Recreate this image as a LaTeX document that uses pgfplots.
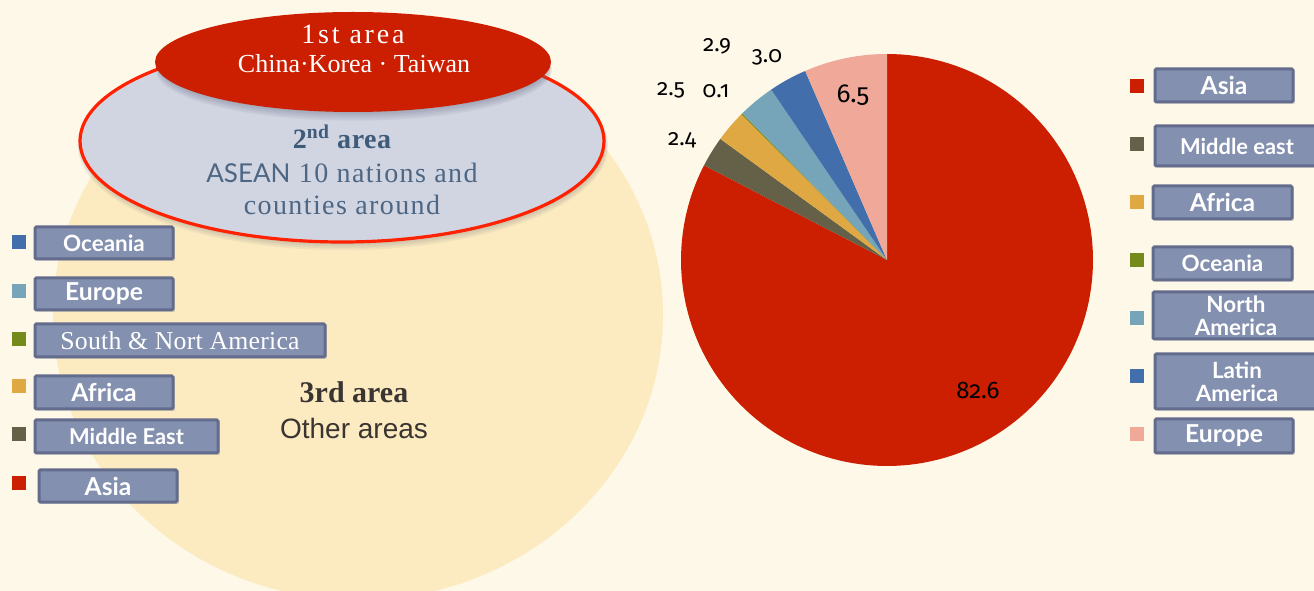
\documentclass[border=0pt]{standalone}
\usepackage{pgfplots}
\pgfplotsset{compat=1.18}
\usepackage{pgfplotstable}
\usepackage{fontspec}
\setmainfont{Liberation Sans}
\newfontfamily\gill{Lato}
\newfontfamily\numf[Numbers=OldStyle]{Fira Sans}
\newfontfamily\simf{Liberation Serif}

\definecolor{bg}{HTML}{FEF8E8}
\definecolor{yel}{HTML}{FCEBC0}
\definecolor{greyf}{HTML}{D1D5E2}
\definecolor{redl}{HTML}{FF2200}
\definecolor{redf}{HTML}{CC1E00}
\definecolor{boxf}{HTML}{8490B0}
\definecolor{boxd}{HTML}{636C8C}
\definecolor{shad}{HTML}{5A6078}
\definecolor{cAsia}{HTML}{CC1E00}
\definecolor{cMid}{HTML}{656048}
\definecolor{cAfr}{HTML}{DFA843}
\definecolor{cOce}{HTML}{748B1B}
\definecolor{cNA}{HTML}{76A5B9}
\definecolor{cLA}{HTML}{426FAB}
\definecolor{cEur}{HTML}{F0A898}
\definecolor{txtblue}{HTML}{3F5B7A}
\definecolor{txtblue2}{HTML}{4C6684}
\definecolor{txtbrown}{HTML}{3A3532}

% pie data: share in percent, clockwise from 12 o'clock
\pgfplotstableread{
value color
82.6 cAsia
2.4 cMid
2.5 cAfr
0.1 cOce
2.9 cNA
3.0 cLA
6.5 cEur
}\piedata

\def\cum{0}
\pgfplotsforeachungrouped \i in {0,...,6}{%
  \pgfplotstablegetelem{\i}{value}\of\piedata
  \let\val\pgfplotsretval
  \pgfmathsetmacro{\startang}{90-3.6*\cum}%
  \pgfmathsetmacro{\cum}{\cum+\val}%
  \pgfmathsetmacro{\stopang}{90-3.6*\cum}%
  \expandafter\xdef\csname pieS\i\endcsname{\startang}%
  \expandafter\xdef\csname pieE\i\endcsname{\stopang}%
  \pgfplotstablegetelem{\i}{color}\of\piedata
  \expandafter\xdef\csname pieC\i\endcsname{\pgfplotsretval}%
}

\newcommand{\lbox}[6]{%
  \fill[shad,opacity=0.18] (axis cs:{#1+1.5},{#2+2}) rectangle (axis cs:{#3+1.5},{#4+2});
  \draw[fill=boxf,draw=boxd,line width=2.25pt,rounded corners=1pt]
    (axis cs:#1,#2) rectangle (axis cs:#3,#4);
  \node[text=white,font=#5,align=center,inner sep=0pt] at (axis cs:{(#1+#3)/2},{(#2+#4)/2}) {#6};}
\newcommand{\lsq}[3]{\fill[#3] (axis cs:#1,{#2-7}) rectangle (axis cs:{#1+14},{#2+7});}

\begin{document}
\begin{tikzpicture}
\path[use as bounding box] (0,0) rectangle (985.5pt,443.25pt);
\begin{axis}[
  width=985.5pt, height=443.25pt, scale only axis,
  xmin=0, xmax=1314, ymin=0, ymax=591, y dir=reverse,
  hide axis, clip=true]
% background
\fill[bg] (axis cs:0,0) rectangle (axis cs:1314,591);
% third area
\fill[yel] (axis cs:358,315) ellipse [x radius=228.75pt, y radius=213.75pt];
% second area: soft shadow, then ellipse
\pgfplotsinvokeforeach{1,...,4}{
  \fill[shad,opacity=0.07] (axis cs:343,{142+#1}) ellipse [x radius={196.5pt+0.6pt*#1}, y radius={75.75pt+0.6pt*#1}];
}
\draw[fill=greyf, draw=redl, line width=2.4pt]
  (axis cs:342,141) ellipse [x radius=196.5pt, y radius=75.75pt];
% first area: soft shadow, then ellipse
\pgfplotsinvokeforeach{1,...,5}{
  \fill[shad,opacity=0.09] (axis cs:354,{64+1.2*#1}) ellipse [x radius={146pt+0.5pt*#1}, y radius={35pt+0.6pt*#1}];
}
\fill[redf] (axis cs:353,62) ellipse [x radius=148.5pt, y radius=37.5pt];

\node[text=white,font=\simf\addfontfeature{LetterSpace=10}\fontsize{21}{23}\selectfont] at (axis cs:353,34) {1st area};
\node[text=white,font=\simf\fontsize{19.5}{21}\selectfont] at (axis cs:354,64) {China·Korea · Taiwan};
\node[text=txtblue,font=\simf\bfseries\addfontfeature{LetterSpace=2}\fontsize{21}{23}\selectfont] at (axis cs:342,137) {2\textsuperscript{nd} area};
\node[text=txtblue2,font=\simf\addfontfeature{LetterSpace=5}\fontsize{21}{23}\selectfont] at (axis cs:342,173) {{\gill\addfontfeature{LetterSpace=0}\fontsize{19.5}{21}\selectfont ASEAN} 10 nations and};
\node[text=txtblue2,font=\simf\addfontfeature{LetterSpace=5}\fontsize{21}{23}\selectfont] at (axis cs:342,205) {counties around};
\node[text=txtbrown,font=\simf\bfseries\fontsize{22.5}{24}\selectfont] at (axis cs:354,392) {3rd area};
\node[text=txtbrown,font=\fontsize{21}{23}\selectfont] at (axis cs:354,428) {Other areas};

% left legend
\lsq{12}{242}{cLA}
\lsq{12}{291}{cNA}
\lsq{12}{339}{cOce}
\lsq{12}{386}{cAfr}
\lsq{12}{434}{cMid}
\lsq{12}{483}{cAsia}
\lbox{35}{227}{173}{259}{\gill\bfseries\fontsize{16.8}{18}\selectfont}{Oceania}
\lbox{35}{278}{173}{310}{\gill\bfseries\fontsize{18.5}{18}\selectfont}{Europe}
\lbox{35}{324}{325}{357}{\simf\addfontfeature{LetterSpace=1}\fontsize{19.3}{21}\selectfont}{South \& Nort America}
\lbox{35}{376}{173}{409}{\gill\bfseries\fontsize{18.5}{18}\selectfont}{Africa}
\lbox{35}{420}{218}{453}{\gill\bfseries\fontsize{16.4}{18}\selectfont}{Middle East}
\lbox{39}{470}{177}{502}{\gill\bfseries\fontsize{18.5}{18}\selectfont}{Asia}

% right legend
\lsq{1130}{86.5}{cAsia}
\lsq{1130}{144.5}{cMid}
\lsq{1130}{202.5}{cAfr}
\lsq{1130}{260.5}{cOce}
\lsq{1130}{318.5}{cNA}
\lsq{1130}{376.5}{cLA}
\lsq{1130}{434.5}{cEur}
\lbox{1155}{69}{1293}{102}{\gill\bfseries\fontsize{18.5}{18}\selectfont}{Asia}
\lbox{1155}{126}{1319}{166}{\gill\bfseries\fontsize{16.4}{18}\selectfont}{Middle east}
\lbox{1153}{186}{1292}{219}{\gill\bfseries\fontsize{18.5}{18}\selectfont}{Africa}
\lbox{1153}{247}{1292}{280}{\gill\bfseries\fontsize{16.8}{18}\selectfont}{Oceania}
\lbox{1153}{292}{1319}{339}{\gill\bfseries\fontsize{16.8}{17.5}\selectfont}{North\\America}
\lbox{1155}{354}{1319}{409}{\gill\bfseries\fontsize{16.8}{17.5}\selectfont}{Latin\\America}
\lbox{1155}{419}{1293}{453}{\gill\bfseries\fontsize{18.5}{18}\selectfont}{Europe}

% pie
\pgfplotsinvokeforeach{0,...,6}{
  \addplot[draw=none, fill=\csname pieC#1\endcsname,
    domain=\csname pieE#1\endcsname:\csname pieS#1\endcsname,
    samples=150, variable=\t]
    ({887+206*cos(\t)},{260-206*sin(\t)}) -- (axis cs:887,260) -- cycle;
}
\node[font=\numf\fontsize{18}{20}\selectfont] at (axis cs:978,390) {82.6};
\node[font=\numf\fontsize{19.5}{20}\selectfont] at (axis cs:853,95) {6.5};
\node[font=\numf\fontsize{17}{20}\selectfont] at (axis cs:767,57) {3.0};
\node[font=\numf\fontsize{17}{20}\selectfont] at (axis cs:717,46) {2.9};
\node[font=\numf\fontsize{17}{20}\selectfont] at (axis cs:716,91) {0.1};
\node[font=\numf\fontsize{17}{20}\selectfont] at (axis cs:671,90) {2.5};
\node[font=\numf\fontsize{17}{20}\selectfont] at (axis cs:682,140) {2.4};
\end{axis}
\end{tikzpicture}
\end{document}
